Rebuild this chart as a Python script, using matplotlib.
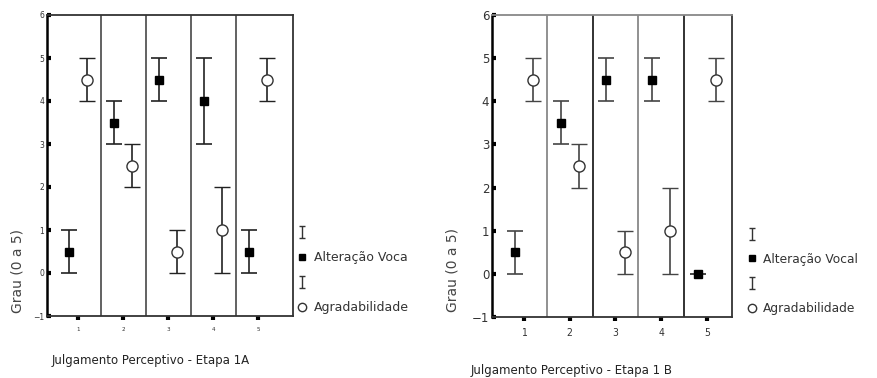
import numpy as np
import matplotlib
matplotlib.use('Agg')
import matplotlib.pyplot as plt
from matplotlib.lines import Line2D
from matplotlib.path import Path

grupos = [1, 2, 3, 4, 5]
rotulos_x = ['1', '2', '3', '4', '5']

# Etapa 1A
alt_1a = [0.5, 3.5, 4.5, 4.0, 0.5]
alt_1a_min = [0, 3, 4, 3, 0]
alt_1a_max = [1, 4, 5, 5, 1]
agr_1a = [4.5, 2.5, 0.5, 1.0, 4.5]
agr_1a_min = [4, 2, 0, 0, 4]
agr_1a_max = [5, 3, 1, 2, 5]

# Etapa 1B
alt_1b = [0.5, 3.5, 4.5, 4.5, 0.0]
alt_1b_min = [0, 3, 4, 4, 0]
alt_1b_max = [1, 4, 5, 5, 0]
agr_1b = [4.5, 2.5, 0.5, 1.0, 4.5]
agr_1b_min = [4, 2, 0, 0, 4]
agr_1b_max = [5, 3, 1, 2, 5]

fig = plt.figure(figsize=(8.77, 3.78), dpi=100)
ax1 = fig.add_axes([47/877, 1-316/378, 246/877, 301/378])
ax2 = fig.add_axes([492/877, 1-317/378, 240/877, 302/378])


def painel(ax, alt, alt_lo, alt_hi, agr, agr_lo, agr_hi, cor, xmax, sep_cores, tick_fs):
    x = np.array(grupos, dtype=float)
    alt = np.array(alt); agr = np.array(agr)
    e1 = [alt - np.array(alt_lo), np.array(alt_hi) - alt]
    e2 = [agr - np.array(agr_lo), np.array(agr_hi) - agr]
    ax.errorbar(x - 0.2, alt, yerr=e1, fmt='s', color=cor, ecolor=cor,
                mfc='black', mec='black', ms=5.5, capsize=5.5, elinewidth=1.2,
                capthick=1.2)
    ax.errorbar(x + 0.2, agr, yerr=e2, fmt='o', color=cor, ecolor=cor,
                mfc='white', mec='#333333', ms=8, capsize=6, elinewidth=1.2,
                capthick=1.2, mew=1.0)
    for s, c in zip([1.5, 2.5, 3.5, 4.5], sep_cores):
        ax.axvline(s, color=c, lw=1.3)
    ax.set_xlim(0.3, xmax)
    ax.set_ylim(-1, 6)
    ax.set_yticks(range(-1, 7))
    ax.set_xticks(grupos)
    ax.set_xticklabels(rotulos_x, fontsize=tick_fs - 1, color='#333333',
                       fontstretch='condensed')
    ax.tick_params(axis='y', direction='in', length=3, width=3, pad=2,
                   labelsize=tick_fs, colors='black', labelcolor='#333333')
    ax.tick_params(axis='x', direction='out', length=3, width=3, pad=5)
    for sp in ax.spines.values():
        sp.set_linewidth(1.3)
        sp.set_color('#333333')
    ax.spines['left'].set_color('black')
    ax.spines['left'].set_linewidth(1.8)


painel(ax1, alt_1a, alt_1a_min, alt_1a_max, agr_1a, agr_1a_min, agr_1a_max,
       '#222222', 5.78, ['#555555'] * 4, 5.5)
ax1.set_ylabel('Grau (0 a 5)', fontsize=10, color='#444444')
ax1.yaxis.set_label_coords(-0.09, 0.15)
ax1.set_xlabel('Julgamento Perceptivo - Etapa 1A', fontsize=8.5, color='#222222')
ax1.xaxis.set_label_coords(0.42, -0.125)

painel(ax2, alt_1b, alt_1b_min, alt_1b_max, agr_1b, agr_1b_min, agr_1b_max,
       '#444444', 5.55, ['#888888', '#222222', '#888888', '#222222'], 8.5)
ax2.spines['top'].set_color('#888888')
ax2.set_ylabel('Grau (0 a 5)', fontsize=10, color='#444444')
ax2.yaxis.set_label_coords(-0.135, 0.155)
ax2.set_xlabel('Julgamento Perceptivo - Etapa 1 B', fontsize=8.5, color='#222222')
ax2.xaxis.set_label_coords(0.33, -0.155)

# I-beam glyph for the error bar entry of the legend
ibeam = Path([(-0.5, 1), (0.5, 1), (0, 1), (0, -1), (-0.5, -1), (0.5, -1)],
             [Path.MOVETO, Path.LINETO, Path.MOVETO, Path.LINETO, Path.MOVETO, Path.LINETO])
eb = Line2D([], [], marker=ibeam, ls='none', mfc='none', mec='#333333', mew=1.0, ms=8)
sq = Line2D([], [], marker='s', ls='none', color='black', ms=4.5)
ci = Line2D([], [], marker='o', ls='none', mfc='white', mec='#333333', ms=6)

fig.legend([eb, sq, eb, ci], ['', 'Alteração Voca', '', 'Agradabilidade'],
           loc='upper left', bbox_to_anchor=(291/877, 1-220/378), frameon=False,
           fontsize=9, handlelength=0.8, handletextpad=0.5, labelspacing=0.95,
           borderpad=0, labelcolor='#333333')
fig.legend([eb, sq, eb, ci], ['', 'Alteração Vocal', '', 'Agradabilidade'],
           loc='upper left', bbox_to_anchor=(741/877, 1-222/378), frameon=False,
           fontsize=8.8, handlelength=0.8, handletextpad=0.5, labelspacing=0.95,
           borderpad=0, labelcolor='#333333')

fig.savefig('out.png', dpi=100)
